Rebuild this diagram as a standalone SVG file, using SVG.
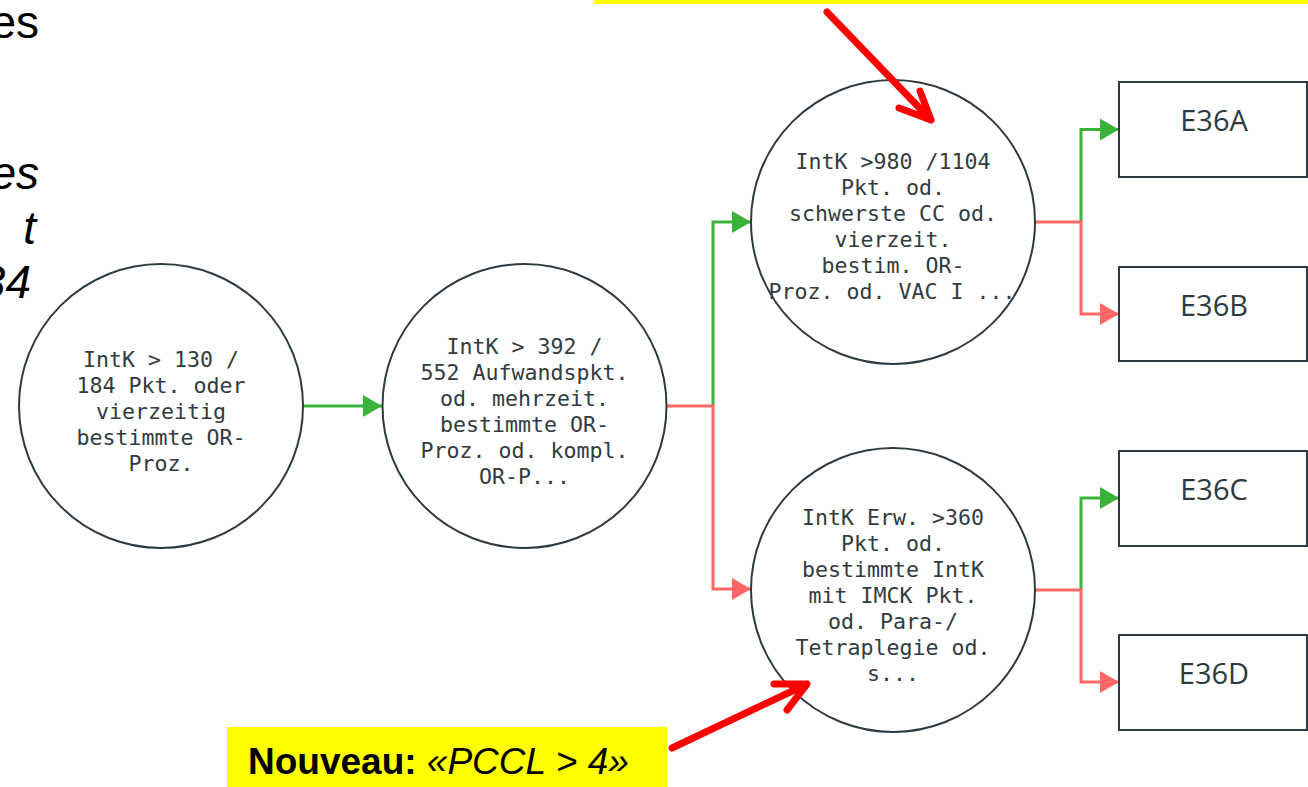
<svg xmlns="http://www.w3.org/2000/svg" width="1308" height="787" viewBox="0 0 1308 787">
  <style>
    .node circle, .node rect { fill: #ffffff; stroke: #2f3a40; stroke-width: 2; }
    .mono { font-family: "DejaVu Sans Mono", "Liberation Mono", monospace; font-size: 21.6px; fill: #333b40; text-anchor: middle; }
    .leaf { font-family: "Open Sans", "Noto Sans", sans-serif; font-size: 29px; fill: #2f3a40; text-anchor: middle; }
    .yes { fill: none; stroke: #3bb33b; stroke-width: 3; }
    .no { fill: none; stroke: #ff6666; stroke-width: 3; }
    .callout { fill: none; stroke: #ff0000; stroke-width: 7; stroke-linecap: round; stroke-linejoin: round; }
    .frag { font-family: "Liberation Sans", Arial, sans-serif; font-size: 46px; fill: #000000; text-anchor: end; }
  </style>
  <defs>
    <marker id="arrowYes" markerUnits="userSpaceOnUse" markerWidth="20" markerHeight="24" viewBox="0 0 20 24" refX="19" refY="12" orient="auto">
      <path d="M0,1 L19,12 L0,23 Z" fill="#3bb33b"/>
    </marker>
    <marker id="arrowNo" markerUnits="userSpaceOnUse" markerWidth="20" markerHeight="24" viewBox="0 0 20 24" refX="19" refY="12" orient="auto">
      <path d="M0,1 L19,12 L0,23 Z" fill="#ff6666"/>
    </marker>
  </defs>

  <rect width="1308" height="787" fill="#ffffff"/>

  <!-- text fragments at the left edge -->
  <text class="frag" x="39" y="38">es</text>
  <text class="frag" x="39" y="189" font-style="italic">es</text>
  <text class="frag" x="36" y="244" font-style="italic">t</text>
  <text class="frag" x="31" y="298" font-style="italic">34</text>

  <!-- yellow band at the top -->
  <rect x="594" y="0" width="714" height="4" fill="#ffff00"/>

  <!-- connectors -->
  <g id="connectors">
    <path class="yes" d="M303,406 H382" marker-end="url(#arrowYes)"/>
    <path class="yes" d="M713,406 V222 H751" marker-end="url(#arrowYes)"/>
    <path class="no" d="M666,406 H713 V589 H751" marker-end="url(#arrowNo)"/>
    <path class="yes" d="M1081,222 V129.5 H1119" marker-end="url(#arrowYes)"/>
    <path class="no" d="M1035,222 H1081 V314 H1119" marker-end="url(#arrowNo)"/>
    <path class="yes" d="M1081,590 V498 H1119" marker-end="url(#arrowYes)"/>
    <path class="no" d="M1035,590 H1081 V682 H1119" marker-end="url(#arrowNo)"/>
  </g>

  <!-- decision nodes -->
  <g id="node-intk130" class="node">
    <circle cx="161" cy="406" r="142"/>
    <text class="mono" x="161" y="367">IntK &gt; 130 /</text>
    <text class="mono" x="161" y="393">184 Pkt. oder</text>
    <text class="mono" x="161" y="419">vierzeitig</text>
    <text class="mono" x="161" y="445">bestimmte OR-</text>
    <text class="mono" x="161" y="471">Proz.</text>
  </g>
  <g id="node-intk392" class="node">
    <circle cx="524.5" cy="406" r="142"/>
    <text class="mono" x="524.5" y="354">IntK &gt; 392 /</text>
    <text class="mono" x="524.5" y="380">552 Aufwandspkt.</text>
    <text class="mono" x="524.5" y="406">od. mehrzeit.</text>
    <text class="mono" x="524.5" y="432">bestimmte OR-</text>
    <text class="mono" x="524.5" y="458">Proz. od. kompl.</text>
    <text class="mono" x="524.5" y="484">OR-P...</text>
  </g>
  <g id="node-intk980" class="node">
    <circle cx="893" cy="222" r="142"/>
    <text class="mono" x="893" y="169">IntK &gt;980 /1104</text>
    <text class="mono" x="893" y="195">Pkt. od.</text>
    <text class="mono" x="893" y="221">schwerste CC od.</text>
    <text class="mono" x="893" y="247">vierzeit.</text>
    <text class="mono" x="893" y="273">bestim. OR-</text>
    <text class="mono" x="892" y="299">Proz. od. VAC I ...</text>
  </g>
  <g id="node-intk360" class="node">
    <circle cx="893" cy="590" r="142"/>
    <text class="mono" x="893" y="525">IntK Erw. &gt;360</text>
    <text class="mono" x="893" y="551">Pkt. od.</text>
    <text class="mono" x="893" y="577">bestimmte IntK</text>
    <text class="mono" x="893" y="603">mit IMCK Pkt.</text>
    <text class="mono" x="893" y="629">od. Para-/</text>
    <text class="mono" x="893" y="655">Tetraplegie od.</text>
    <text class="mono" x="893" y="681">s...</text>
  </g>

  <!-- result nodes -->
  <g id="node-e36a" class="node">
    <rect x="1119" y="82" width="188" height="95"/>
    <text class="leaf" x="1214" y="131">E36A</text>
  </g>
  <g id="node-e36b" class="node">
    <rect x="1119" y="267" width="188" height="94"/>
    <text class="leaf" x="1214" y="316">E36B</text>
  </g>
  <g id="node-e36c" class="node">
    <rect x="1119" y="451" width="188" height="95"/>
    <text class="leaf" x="1214" y="500">E36C</text>
  </g>
  <g id="node-e36d" class="node">
    <rect x="1119" y="635" width="188" height="95"/>
    <text class="leaf" x="1214" y="684">E36D</text>
  </g>

  <!-- red pointer arrows -->
  <g id="pointers">
    <path class="callout" d="M827,12 L931,120 M920,91 L931,120 L899,108"/>
    <path class="callout" d="M672,748 L807,684 M774,684 L807,684 L787,710"/>
  </g>

  <!-- yellow label -->
  <g id="label-pccl">
    <rect x="227" y="727" width="440" height="60" fill="#ffff00"/>
    <text x="248" y="774" font-family="'Liberation Sans', Arial, sans-serif" font-size="37" fill="#000000"><tspan font-weight="bold">Nouveau:</tspan> <tspan font-style="italic">«PCCL &gt; 4»</tspan></text>
  </g>
</svg>
